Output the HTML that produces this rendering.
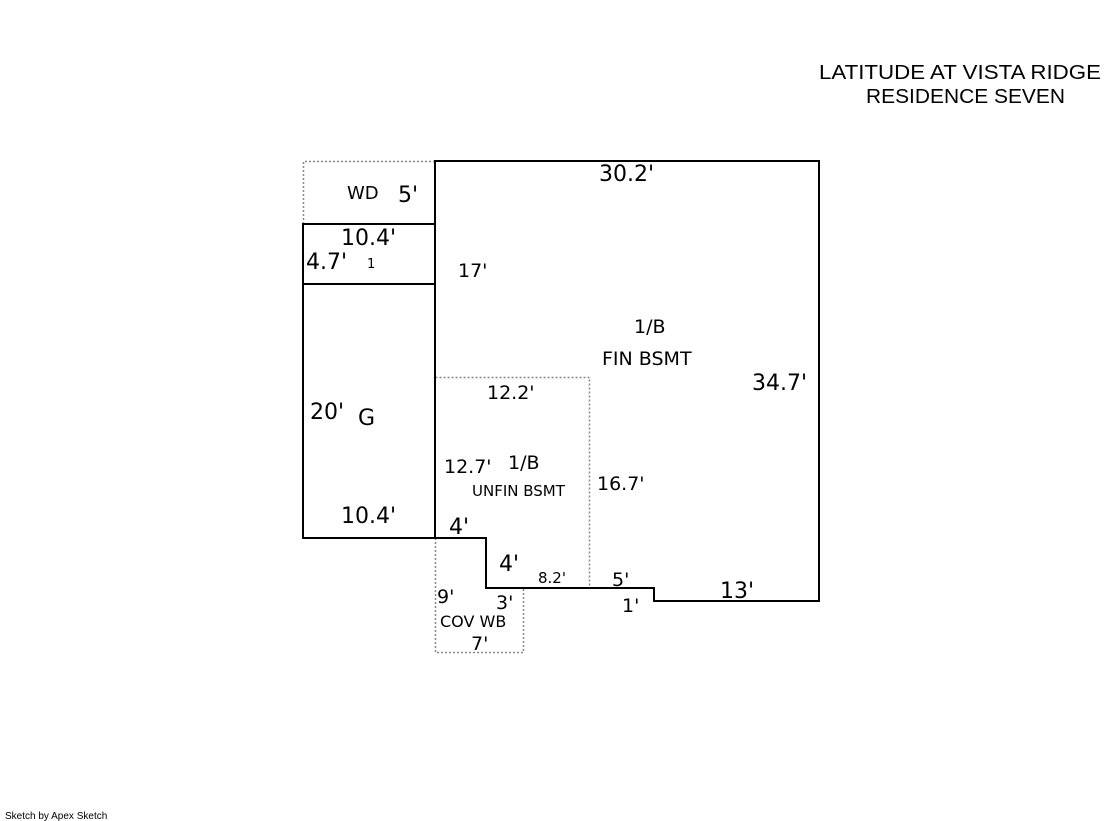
<!DOCTYPE html>
<html><head><meta charset="utf-8"><style>
html,body{margin:0;padding:0;background:#fff;}
svg{display:block;}
text{font-family:"DejaVu Sans","Liberation Sans",sans-serif;fill:#000;}
</style></head><body>
<svg width="1119" height="821" viewBox="0 0 1119 821" xmlns="http://www.w3.org/2000/svg">
<g fill="none" stroke="#888" stroke-width="1.5" stroke-dasharray="2,2">
<path d="M303.5 224 V161.5 H435"/>
<path d="M435.5 377.5 H589.5 V588"/>
<path d="M435.5 538 V652.5 H523.5 V588"/>
</g>
<g fill="none" stroke="#000" stroke-width="2">
<path d="M435 161 H819 V601 H654 V588 H486 V538 H303 V224 H435 Z"/>
<path d="M435 161 V538"/>
<path d="M303 284 H435"/>
</g>
<text x="819" y="79" font-size="20" textLength="282" lengthAdjust="spacingAndGlyphs" style="font-family:'Liberation Sans',sans-serif">LATITUDE AT VISTA RIDGE</text>
<text x="866" y="103" font-size="20" textLength="199" lengthAdjust="spacingAndGlyphs" style="font-family:'Liberation Sans',sans-serif">RESIDENCE SEVEN</text>
<g font-size="22">
<text x="599" y="181">30.2'</text>
<text x="398" y="202">5'</text>
<text x="341" y="245">10.4'</text>
<text x="306" y="269">4.7'</text>
<text x="752" y="390">34.7'</text>
<text x="310" y="419">20'</text>
<text x="358" y="425">G</text>
<text x="341" y="523">10.4'</text>
<text x="449" y="534">4'</text>
<text x="499" y="571">4'</text>
<text x="720" y="598">13'</text>
</g>
<g font-size="19">
<text x="458" y="277">17'</text>
<text x="634" y="333">1/B</text>
<text x="602" y="365">FIN BSMT</text>
<text x="487" y="399">12.2'</text>
<text x="444" y="473">12.7'</text>
<text x="508" y="469">1/B</text>
<text x="597" y="490">16.7'</text>
<text x="612" y="586">5'</text>
<text x="622" y="612">1'</text>
<text x="437" y="603">9'</text>
<text x="496" y="609">3'</text>
<text x="471" y="650">7'</text>
</g>
<text x="347" y="199" font-size="18">WD</text>
<text x="367" y="268" font-size="13">1</text>
<text x="472" y="496" font-size="15">UNFIN BSMT</text>
<text x="538" y="583" font-size="15">8.2'</text>
<text x="440" y="627" font-size="16">COV WB</text>
<text x="5" y="819" font-size="10" style="font-family:'Liberation Sans',sans-serif">Sketch by Apex Sketch</text>
</svg>
</body></html>
